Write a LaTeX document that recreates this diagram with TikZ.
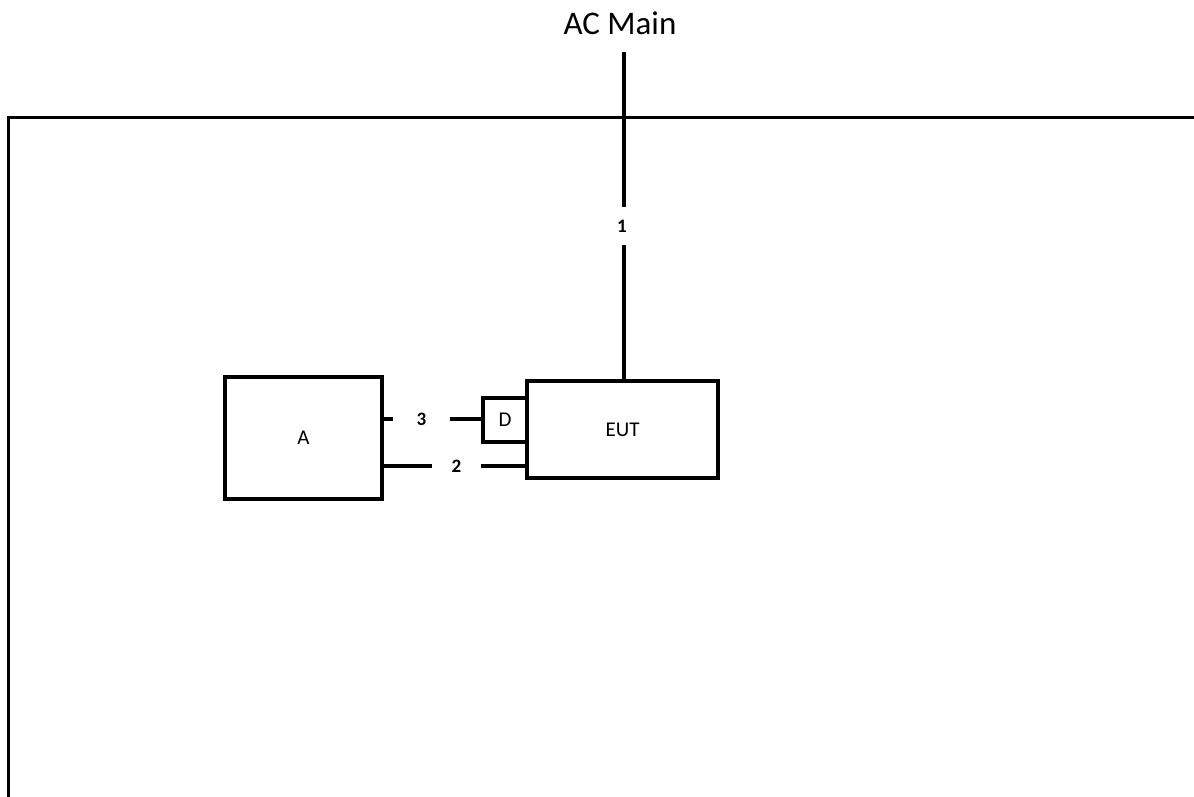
\documentclass[tikz,border=0pt]{standalone}
\usepackage{fontspec}
\setmainfont{Carlito}
\begin{document}
\begin{tikzpicture}[x=1pt,y=-1pt,
  wire/.style={line width=3.2pt},
  boxn/.style={draw,line width=3.2pt,inner sep=0pt,anchor=center,font=\fontsize{21}{24}\selectfont},
  lbl/.style={inner sep=0pt,font=\fontsize{19}{22}\selectfont\bfseries}]
\useasboundingbox (0,0) rectangle (1194,796);
% frame
\draw[wire] (8.5,800) -- (8.5,117.5) -- (1200,117.5);
% nodes
\node[boxn,minimum width=157pt,minimum height=122pt] (A) at (303.5,438) {A};
\node[boxn,minimum width=191pt,minimum height=97pt] (EUT) at (622.5,429.5) {EUT};
\node[boxn,minimum width=44pt,minimum height=44pt] (D) at (505,420) {D};
\node[font=\fontsize{33}{36}\selectfont,inner sep=0pt] (ac) at (620,23) {AC Main};
\coordinate (top) at (624,52);
% labels
\node[lbl,minimum height=38pt] (l1) at (622,226) {1};
\node[lbl,minimum width=57pt] (l3) at (421.5,419) {3};
\node[lbl,minimum width=49pt] (l2) at (456.5,466) {2};
% connectors
\draw[wire] (top) -- (top |- l1.north);
\draw[wire] (top |- l1.south) -- (top |- EUT.north);
\draw[wire] (l3.west -| A.east) -- (l3.west);
\draw[wire] (l3.east) -- (l3.east -| D.west);
\draw[wire] (l2.west -| A.east) -- (l2.west);
\draw[wire] (l2.east) -- (l2.east -| EUT.west);
\end{tikzpicture}
\end{document}
